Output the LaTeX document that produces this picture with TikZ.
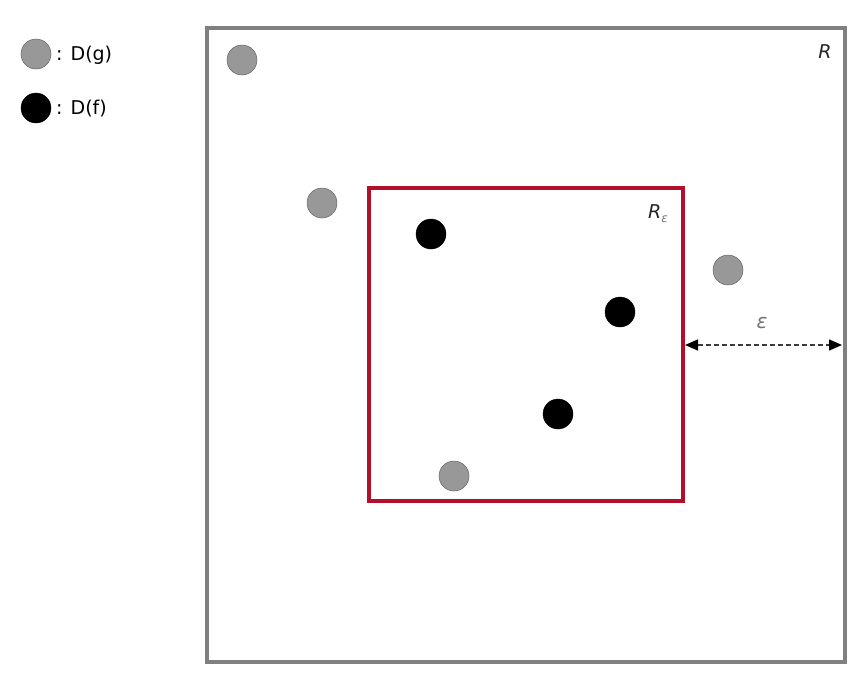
\documentclass[tikz,border=0pt]{standalone}
\usepackage{fontspec}
\setmainfont{DejaVu Sans}
\usetikzlibrary{arrows.meta}
\definecolor{boxgray}{RGB}{128,128,128}
\definecolor{dotgray}{RGB}{152,152,152}
\definecolor{boxred}{RGB}{178,16,42}
\definecolor{txtgray}{RGB}{60,60,60}
\tikzset{
  gdot/.style={circle,draw=gray!80!black,line width=0.5pt,fill=dotgray,minimum size=30pt,inner sep=0pt},
  bdot/.style={circle,draw=black,fill=black,minimum size=30pt,inner sep=0pt},
  legtxt/.style={anchor=west,font=\fontsize{19}{22}\selectfont,inner sep=0pt},
  lbl/.style={font=\fontsize{19}{22}\selectfont\itshape,text=black!85,inner sep=0pt},
  tip/.style={Triangle[length=13pt,width=11pt,fill=black,color=black]},
}
\begin{document}
\begin{tikzpicture}[x=1pt,y=-1pt]
\useasboundingbox (0,0) rectangle (868,691);
% outer region
\draw[boxgray,line width=4pt] (207,28) rectangle (845,662);
\node[lbl] (R) at (825,52) {R};
% inner region
\draw[boxred,line width=3.5pt] (369,188) rectangle (683,501);
\node[lbl] (Re) at (658,214) {R\raisebox{-4pt}{\fontsize{12}{12}\selectfont\color{black!55}ε}};
\coordinate (a1) at (685,345);
\coordinate (a2) at (842,345);
\draw[txtgray,dash pattern=on 5pt off 3pt,line width=1.4pt,{Triangle[length=13pt,width=11pt,color=black]}-{Triangle[length=13pt,width=11pt,color=black]}] (a1) -- (a2);
\node[text=black!55,font=\fontsize{20}{22}\selectfont\itshape] (eps) at (762,323) {ε};
% legend
\node[gdot] (lg) at (36,54) {};
\node[legtxt] (lgt) at (56,55) {: D(g)};
\node[bdot] (lf) at (36,108) {};
\node[legtxt] (lft) at (56,109) {: D(f)};
% D(g)
\node[gdot] (g1) at (242,60) {};
\node[gdot] (g2) at (322,203) {};
\node[gdot] (g3) at (728,270) {};
\node[gdot] (g4) at (454,476) {};
% D(f)
\node[bdot] (f1) at (431,234) {};
\node[bdot] (f2) at (620,312) {};
\node[bdot] (f3) at (558,414) {};
\end{tikzpicture}
\end{document}
